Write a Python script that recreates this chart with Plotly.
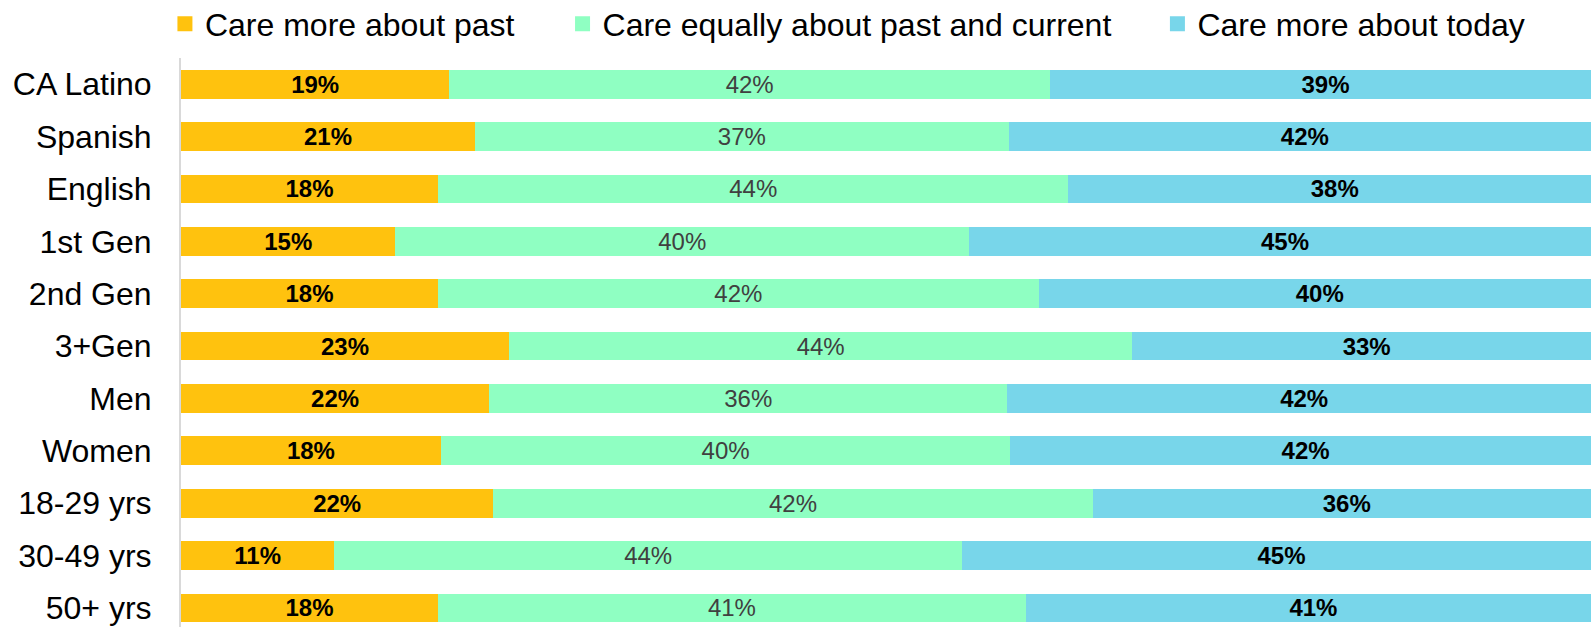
import plotly.graph_objects as go

# categorias (de arriba hacia abajo)
categorias = ["CA Latino", "Spanish", "English", "1st Gen", "2nd Gen", "3+Gen",
              "Men", "Women", "18-29 yrs", "30-49 yrs", "50+ yrs"]

# largo de cada segmento (%)
pasado = [18.9, 20.7, 18.1, 15.1, 18.1, 23.1, 21.7, 18.3, 22.0, 10.8, 18.1]
igual = [42.3, 37.6, 44.4, 40.4, 42.3, 43.9, 36.5, 40.1, 42.2, 44.2, 41.4]
hoy = [38.8, 41.7, 37.5, 44.5, 39.6, 33.0, 41.8, 41.6, 35.8, 45.0, 40.5]

# etiquetas que muestra el grafico
pasado_lbl = [19, 21, 18, 15, 18, 23, 22, 18, 22, 11, 18]
igual_lbl = [42, 37, 44, 40, 42, 44, 36, 40, 42, 44, 41]
hoy_lbl = [39, 42, 38, 45, 40, 33, 42, 42, 36, 45, 41]

series = [
    ("Care more about past", pasado, pasado_lbl, "#FFC20E", "#000000", "bold", "legend"),
    ("Care equally about past and current", igual, igual_lbl, "#8FFFC2", "#404040", "normal", "legend2"),
    ("Care more about today", hoy, hoy_lbl, "#78D6EA", "#000000", "bold", "legend3"),
]

FUENTE = "Liberation Sans, Arial, sans-serif"

fig = go.Figure()
for nombre, valores, lbl, color, color_txt, peso, leyenda in series:
    fig.add_trace(go.Bar(
        y=categorias,
        x=valores,
        name=nombre,
        orientation="h",
        marker=dict(color=color, line=dict(width=0)),
        text=[f"{v}%" for v in lbl],
        textposition="inside",
        insidetextanchor="middle",
        textangle=0,
        constraintext="none",
        textfont=dict(family=FUENTE, size=24, color=color_txt, weight=peso),
        showlegend=False,
        hoverinfo="skip",
    ))
    # solo para la leyenda (cuadrado mas grande que el de las barras)
    fig.add_trace(go.Scatter(
        x=[None], y=[None],
        mode="markers",
        name=nombre,
        marker=dict(symbol="square", size=15, color=color),
        legend=leyenda,
        showlegend=True,
        hoverinfo="skip",
    ))

ley = dict(orientation="h", yanchor="middle", y=1.0600, xanchor="left",
           font=dict(family=FUENTE, size=32, color="#000000"),
           bgcolor="rgba(0,0,0,0)", borderwidth=0)

fig.update_layout(
    barmode="stack",
    bargap=0.45,
    width=1591,
    height=627,
    showlegend=True,
    margin=dict(l=181, r=0, t=58, b=0, autoexpand=False),
    paper_bgcolor="white",
    plot_bgcolor="white",
    font=dict(family=FUENTE, color="#000000"),
    legend=dict(ley, x=-0.0114),
    legend2=dict(ley, x=0.2706),
    legend3=dict(ley, x=0.6925),
    xaxis=dict(range=[0, 99.3], visible=False, showgrid=False, zeroline=False),
    yaxis=dict(
        type="category",
        range=[10.364, -0.5],
        showgrid=False,
        zeroline=False,
        showline=True,
        linecolor="#D9D9D9",
        linewidth=2,
        ticks="",
        ticklabelstandoff=21,
        tickfont=dict(family=FUENTE, size=32, color="#000000"),
    ),
)

# sin margen del body para que el grafico quede en (0, 0)
fig.write_html("out.html", config={"displayModeBar": False},
               post_script="document.body.style.margin='0';")
